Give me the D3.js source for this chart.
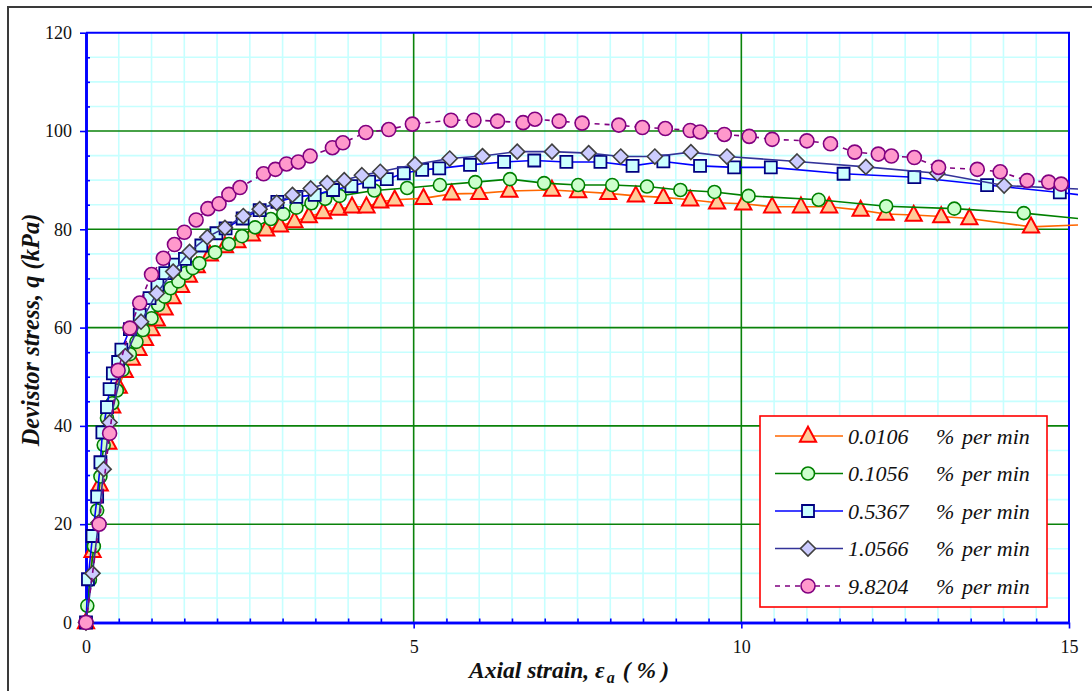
<!DOCTYPE html>
<html>
<head>
<meta charset="utf-8">
<script src="https://cdn.jsdelivr.net/npm/d3@7"></script>
<style>
  html, body { margin: 0; padding: 0; background: #ffffff; }
  text { font-family: 'Liberation Serif'; }
</style>
</head>
<body>
<svg id="chart" width="1092" height="691"></svg>
<script>
// Stress–strain curves at five axial strain rates: [axial strain %, deviator stress kPa]
const rate0106 = [[0,0],[0.1,14.5],[0.21,28],[0.34,36.5],[0.4,43.9],[0.5,47.9],[0.59,51.1],[0.7,53.6],[0.8,55.6],[0.9,57.6],[1.0,59.6],[1.08,61.6],[1.2,63.8],[1.32,66.1],[1.45,68.4],[1.57,70.5],[1.69,72.4],[1.89,74.8],[2.12,76.5],[2.31,77.5],[2.53,78.9],[2.75,79.9],[2.96,80.7],[3.18,81.6],[3.40,82.6],[3.62,83.4],[3.85,84.1],[4.06,84.6],[4.28,84.6],[4.49,85.6],[4.71,86.0],[5.15,86.3],[5.58,87.2],[6.0,87.3],[6.46,87.8],[7.11,88.0],[7.51,87.7],[7.97,87.3],[8.39,86.8],[8.81,86.5],[9.22,86.0],[9.63,85.4],[10.03,85.2],[10.47,84.6],[10.91,84.6],[11.34,84.6],[11.82,83.9],[12.2,83.1],[12.63,82.9],[13.05,82.6],[13.48,82.2],[14.42,80.5],[15.6,81.1]];
const rate1056 = [[0,0],[0.02,3.4],[0.06,8.7],[0.12,15.5],[0.17,22.8],[0.22,29.7],[0.27,36.1],[0.32,41.6],[0.40,44.6],[0.47,47.2],[0.56,51.4],[0.67,54.6],[0.77,57.1],[0.87,59.5],[1.0,61.9],[1.1,64.6],[1.2,66.3],[1.29,68.0],[1.41,69.4],[1.52,71.1],[1.63,72.1],[1.73,73.1],[1.97,75.3],[2.18,77.0],[2.38,78.6],[2.58,80.4],[2.82,82.1],[3.01,83.1],[3.21,84.4],[3.44,85.3],[3.65,86.2],[3.87,86.8],[4.40,87.9],[4.9,88.4],[5.40,89.0],[5.94,89.6],[6.47,90.2],[6.99,89.4],[7.51,89.0],[8.03,89.0],[8.56,88.7],[9.07,88.0],[9.59,87.6],[10.11,86.8],[11.18,86.0],[12.21,84.7],[13.25,84.2],[14.31,83.3],[15.6,81.6]];
const rate5367 = [[0,0],[0.03,8.8],[0.1,17.6],[0.17,25.6],[0.22,32.6],[0.25,38.7],[0.32,43.8],[0.36,47.5],[0.41,50.7],[0.49,53.0],[0.54,55.5],[0.67,59.7],[0.82,62.6],[0.97,66.0],[1.09,68.7],[1.21,71.1],[1.36,72.8],[1.51,74.0],[1.76,76.7],[1.99,79.2],[2.13,80.2],[2.39,82.2],[2.65,83.9],[2.92,85.6],[3.21,86.6],[3.49,87.0],[3.77,88.0],[4.05,88.8],[4.32,89.7],[4.59,90.2],[4.85,91.4],[5.13,92.1],[5.39,92.4],[5.86,93.1],[6.38,93.7],[6.84,94.0],[7.33,93.7],[7.85,93.7],[8.34,92.9],[8.81,93.8],[9.37,92.9],[9.89,92.6],[10.45,92.6],[11.56,91.3],[12.64,90.6],[13.75,89.0],[14.86,87.5],[15.6,86.3]];
const rate10566 = [[0,0],[0.1,10.0],[0.19,20.3],[0.27,31.2],[0.36,40.7],[0.6,54.2],[0.84,61.2],[1.08,67.0],[1.33,71.4],[1.58,75.4],[1.85,78.4],[2.12,80.3],[2.40,82.7],[2.65,84.1],[2.91,85.4],[3.15,87.0],[3.43,88.3],[3.68,89.4],[3.94,90.0],[4.21,91.0],[4.49,91.7],[5.02,93.2],[5.55,94.4],[6.05,94.9],[6.58,95.8],[7.11,95.8],[7.67,95.5],[8.16,94.8],[8.68,94.8],[9.23,95.7],[9.78,94.8],[10.85,93.8],[11.9,92.7],[12.99,91.4],[14.01,88.9],[15.6,87.9]];
const rate98204 = [[0,0],[0.2,20.0],[0.36,38.5],[0.49,51.3],[0.67,59.9],[0.82,65.0],[1.0,70.8],[1.18,74.1],[1.35,76.9],[1.50,79.4],[1.68,81.9],[1.86,84.2],[2.03,85.2],[2.18,87.1],[2.35,88.5],[2.71,91.3],[2.89,92.2],[3.06,93.3],[3.24,93.7],[3.42,94.9],[3.76,96.6],[3.92,97.6],[4.27,99.7],[4.62,100.3],[4.98,101.4],[5.57,102.2],[5.92,102.2],[6.28,102.0],[6.67,101.7],[6.85,102.4],[7.22,102.0],[7.57,101.6],[8.13,101.2],[8.49,100.7],[8.84,100.5],[9.22,100.1],[9.37,99.8],[9.74,99.3],[10.12,98.9],[10.47,98.3],[11.0,98.0],[11.36,97.4],[11.73,95.7],[12.09,95.3],[12.29,94.9],[12.64,94.6],[13.01,92.6],[13.6,92.2],[13.95,91.7],[14.36,89.9],[14.69,89.6],[14.88,89.2]];

const rateLabels = ["0.0106", "0.1056", "0.5367", "1.0566", "9.8204"];
const unitPct = "%";
const unitPer = "per min";
const xTicks = [0, 5, 10, 15];
const yTicks = [0, 20, 40, 60, 80, 100, 120];

const FONT = "Liberation Serif";
const svg = d3.select("#chart");
const pLeft = 86, pRight = 1069, pTop = 32.7, pBottom = 622.5;
const x = d3.scaleLinear().domain([0, 15]).range([pLeft, pRight]);
const y = d3.scaleLinear().domain([0, 120]).range([pBottom, pTop]);

const setFont = sel => sel.attr("font-family", FONT).style("font-family", `'${FONT}'`);

// outer chart frame
svg.append("rect").attr("x", 8).attr("y", 7).attr("width", 1200).attr("height", 800)
  .attr("fill", "#ffffff").attr("stroke", "#3a3a3a").attr("stroke-width", 2);

// minor grid
const xMinor = d3.range(0.5, 15, 0.5).filter(v => v % 5 !== 0);
const yMinor = d3.range(5, 120, 5).filter(v => v % 20 !== 0);
const grid = svg.append("g");
grid.selectAll(".gxm").data(xMinor).join("line")
  .attr("x1", d => x(d)).attr("x2", d => x(d)).attr("y1", pTop).attr("y2", pBottom)
  .attr("stroke", "#c6ffff").attr("stroke-width", 1.6);
grid.selectAll(".gym").data(yMinor).join("line")
  .attr("x1", pLeft).attr("x2", pRight).attr("y1", d => y(d)).attr("y2", d => y(d))
  .attr("stroke", "#c6ffff").attr("stroke-width", 1.6);
// major grid
grid.selectAll(".gx").data([5, 10]).join("line")
  .attr("x1", d => x(d)).attr("x2", d => x(d)).attr("y1", pTop).attr("y2", pBottom)
  .attr("stroke", "#0a820a").attr("stroke-width", 1.6);
grid.selectAll(".gy").data([20, 40, 60, 80, 100]).join("line")
  .attr("x1", pLeft).attr("x2", pRight).attr("y1", d => y(d)).attr("y2", d => y(d))
  .attr("stroke", "#0a820a").attr("stroke-width", 1.6);

// plot border (top / right)
svg.append("path").attr("d", `M${pLeft},${pTop}H${pRight}V${pBottom}`)
  .attr("fill", "none").attr("stroke", "#0000ff").attr("stroke-width", 2);

// axes
const axisStyle = g => {
  g.call(setFont);
  g.select(".domain").attr("stroke", "#0000ff").attr("stroke-width", 2.6);
  g.selectAll(".tick line").attr("stroke", "#0000ff").attr("stroke-width", 1.6);
  g.selectAll("text").attr("font-size", 18).attr("fill", "#111").call(setFont);
};
svg.append("g").attr("transform", `translate(0,${pBottom})`)
  .call(d3.axisBottom(x).tickValues(xMinor).tickSize(-4).tickFormat("").tickSizeOuter(0))
  .call(axisStyle);
svg.append("g").attr("transform", `translate(0,${pBottom})`)
  .call(d3.axisBottom(x).tickValues(xTicks).tickSize(6).tickPadding(12).tickSizeOuter(0).tickFormat(d3.format("d")))
  .call(axisStyle);
svg.append("g").attr("transform", `translate(${pLeft},0)`)
  .call(d3.axisLeft(y).tickValues(yMinor).tickSize(-4).tickFormat("").tickSizeOuter(0))
  .call(axisStyle);
svg.append("g").attr("transform", `translate(${pLeft},0)`)
  .call(d3.axisLeft(y).tickValues(yTicks).tickSize(6).tickPadding(8).tickSizeOuter(0).tickFormat(d3.format("d")))
  .call(axisStyle);

// marker shapes
const tri = s => `M0,${-s*0.62}L${s*0.54},${s*0.38}L${-s*0.54},${s*0.38}Z`;
const sq = s => `M${-s/2},${-s/2}h${s}v${s}h${-s}Z`;
const dia = s => `M0,${-s/2}L${s/2},0L0,${s/2}L${-s/2},0Z`;
const circ = s => d3.symbol(d3.symbolCircle, Math.PI * (s/2) * (s/2))();

const series = [
  { data: rate0106, line: "#ff6600", dash: null, shape: tri, size: 15, fill: "#ffcc99", stroke: "#ff0000", sw: 2 },
  { data: rate1056, line: "#008000", dash: null, shape: circ, size: 13, fill: "#ccffcc", stroke: "#008000", sw: 1.6 },
  { data: rate5367, line: "#0000ff", dash: null, shape: sq, size: 12, fill: "#ccffff", stroke: "#000080", sw: 1.8 },
  { data: rate10566, line: "#333399", dash: null, shape: dia, size: 15, fill: "#ccccff", stroke: "#404040", sw: 1.6 },
  { data: rate98204, line: "#800080", dash: "5,5", shape: circ, size: 14, fill: "#ff99cc", stroke: "#800080", sw: 1.6 }
];

svg.append("clipPath").attr("id", "plotClip").append("rect")
  .attr("x", 70).attr("y", 20).attr("width", 1078 - 70).attr("height", 620);

const lineGen = d3.line().x(d => x(d[0])).y(d => y(d[1]));
const plot = svg.append("g").attr("clip-path", "url(#plotClip)");
series.forEach(s => {
  const g = plot.append("g");
  g.append("path").datum(s.data).attr("d", lineGen)
    .attr("fill", "none").attr("stroke", s.line).attr("stroke-width", 1.6)
    .attr("stroke-dasharray", s.dash);
  g.selectAll("path.m").data(s.data.filter(d => d[0] <= 15)).join("path").attr("class", "m")
    .attr("transform", d => `translate(${x(d[0])},${y(d[1])})`)
    .attr("d", s.shape(s.size))
    .attr("fill", s.fill).attr("stroke", s.stroke).attr("stroke-width", s.sw);
});

// axis titles
svg.append("text").attr("x", 569).attr("y", 678).attr("text-anchor", "middle").call(setFont)
  .attr("font-size", 23.5).attr("font-weight", "bold").attr("font-style", "italic").attr("fill", "#111")
  .call(t => {
    t.append("tspan").text("Axial strain, ε");
    t.append("tspan").attr("font-size", 16).attr("dy", 5).attr("dx", 2).text("a");
    t.append("tspan").attr("dy", -5).attr("dx", 8).text("(");
    t.append("tspan").attr("dx", 6).text("%");
    t.append("tspan").attr("dx", 5).text(")");
  });
svg.append("text").attr("transform", "translate(39,330) rotate(-90)").attr("text-anchor", "middle").call(setFont)
  .attr("font-size", 24.5).attr("font-weight", "bold").attr("font-style", "italic").attr("fill", "#111")
  .text("Devistor stress, q (kPa)");

// legend
const lg = svg.append("g").call(setFont);
lg.append("rect").attr("x", 760).attr("y", 416).attr("width", 287).attr("height", 191)
  .attr("fill", "#ffffff").attr("stroke", "#ff0000").attr("stroke-width", 1.6);
series.forEach((s, i) => {
  const cy = 436 + i * 37.5;
  lg.append("line").attr("x1", 775).attr("x2", 843).attr("y1", cy).attr("y2", cy)
    .attr("stroke", s.line).attr("stroke-width", 1.6).attr("stroke-dasharray", s.dash);
  lg.append("path").attr("transform", `translate(808,${cy})`).attr("d", s.shape(s.size))
    .attr("fill", s.fill).attr("stroke", s.stroke).attr("stroke-width", s.sw);
  lg.append("text").attr("x", 848).attr("y", cy + 7.5).attr("font-size", 22).attr("font-style", "italic")
    .call(setFont).attr("fill", "#111").text(rateLabels[i]);
  lg.append("text").attr("x", 936).attr("y", cy + 7.5).attr("font-size", 22).attr("font-style", "italic")
    .call(setFont).attr("fill", "#111").text(unitPct);
  lg.append("text").attr("x", 962).attr("y", cy + 7.5).attr("font-size", 22).attr("font-style", "italic")
    .call(setFont).attr("fill", "#111").text(unitPer);
});
</script>
</body>
</html>
